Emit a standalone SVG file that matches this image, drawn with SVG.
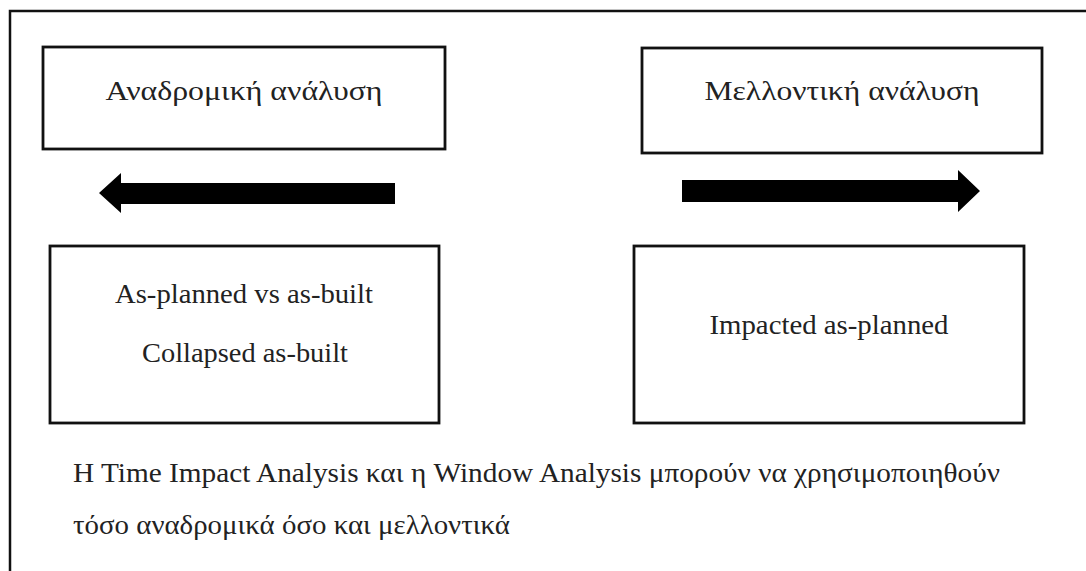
<svg xmlns="http://www.w3.org/2000/svg" width="1086" height="571" viewBox="0 0 1086 571">
  <style>
    .frame { fill: none; stroke: #111; stroke-width: 2.5; }
    .box { fill: #fff; stroke: #111; stroke-width: 2.8; }
    .label { font-family: "Liberation Serif", "DejaVu Serif", serif; font-size: 27px; fill: #222; text-anchor: middle; }
    .note { font-family: "Liberation Serif", "DejaVu Serif", serif; font-size: 27px; fill: #222; }
    .arrow { fill: #000; }
  </style>
  <rect width="1086" height="571" fill="#fff"/>
  <!-- outer frame, open to the right and bottom edges -->
  <path class="frame" d="M10,580 V11 H1090"/>

  <g id="retro-title">
    <rect class="box" x="43" y="47" width="402" height="102"/>
    <text class="label" x="244" y="100" textLength="277" lengthAdjust="spacingAndGlyphs">Αναδρομική ανάλυση</text>
  </g>
  <g id="future-title">
    <rect class="box" x="642" y="48" width="400" height="105"/>
    <text class="label" x="842" y="100" textLength="275" lengthAdjust="spacingAndGlyphs">Μελλοντική ανάλυση</text>
  </g>
  <g id="retro-methods">
    <rect class="box" x="50" y="246" width="389" height="177"/>
    <text class="label" x="244" y="303" textLength="258" lengthAdjust="spacingAndGlyphs">As-planned vs as-built</text>
    <text class="label" x="245" y="362" textLength="206" lengthAdjust="spacingAndGlyphs">Collapsed as-built</text>
  </g>
  <g id="future-methods">
    <rect class="box" x="634" y="246" width="390" height="177"/>
    <text class="label" x="829" y="334" textLength="239" lengthAdjust="spacingAndGlyphs">Impacted as-planned</text>
  </g>

  <g id="connectors">
    <!-- backward (retrospective) arrow -->
    <polygon class="arrow" points="395,183 121,183 121,173 99,193 121,213 121,204 395,204"/>
    <!-- forward (prospective) arrow -->
    <polygon class="arrow" points="682,180 958,180 958,170 980,191 958,212 958,202 682,202"/>
  </g>

  <g id="note">
    <text class="note" x="73" y="482" textLength="927" lengthAdjust="spacingAndGlyphs">H Time Impact Analysis και η Window Analysis μπορούν να χρησιμοποιηθούν</text>
    <text class="note" x="73" y="534" textLength="437" lengthAdjust="spacingAndGlyphs">τόσο αναδρομικά όσο και μελλοντικά</text>
  </g>
</svg>
